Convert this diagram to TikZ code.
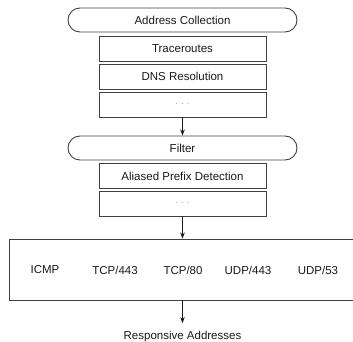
\documentclass[tikz,border=0pt]{standalone}
\usepackage{fontspec}
\setmainfont{Liberation Sans}
\usetikzlibrary{arrows.meta}
\begin{document}
\begin{tikzpicture}[x=1pt,y=-1pt,
  every node/.style={font=\fontsize{11.5}{13}\selectfont, text=black!90},
  stage/.style={draw=black!75, line width=0.9pt, rounded corners=12pt, minimum width=229pt, minimum height=24pt, inner sep=0pt},
  sub/.style={draw=black!75, line width=0.9pt, minimum width=167pt, minimum height=25pt, inner sep=0pt},
  arr/.style={draw=black!90, line width=0.8pt, -{Stealth[length=6pt,width=4.5pt]}},
  dotsnode/.style={font=\fontsize{7}{8}\selectfont, text=black!60}]
\useasboundingbox (0,0) rectangle (353,342);
\clip (0,0) rectangle (353,342);
\node[stage] (ac) at (182.5,20) {Address Collection};
\node[sub] (tr) at (182.5,48.5) {Traceroutes};
\node[sub] (dns) at (182.5,76.5) {DNS Resolution};
\node[sub, dotsnode] (d1) at (182.5,104.5) {.\ \ .\ \ .};
\node[stage] (fi) at (182.5,148) {Filter};
\node[sub] (ap) at (182.5,176) {Aliased Prefix Detection};
\node[sub, dotsnode] (d2) at (182.5,203.5) {.\ \ .\ \ .};
\node[draw=black!75, line width=0.9pt, minimum width=360pt, minimum height=61pt, inner sep=0pt] (probe) at (189,269.5) {};
\node (icmp) at (45,270) {ICMP};
\node (t443) at (115,270) {TCP/443};
\node (t80) at (183,270) {TCP/80};
\node (u443) at (248,270) {UDP/443};
\node (u53) at (318,270) {UDP/53};
\node (resp) at (182.5,337) {Responsive Addresses};
\draw[arr] (d1.south) -- (fi.north);
\draw[arr] (d2.south) -- (d2.south |- probe.north);
\draw[arr, shorten >=5pt] (d2.south |- probe.south) -- (resp.north);
\end{tikzpicture}
\end{document}
